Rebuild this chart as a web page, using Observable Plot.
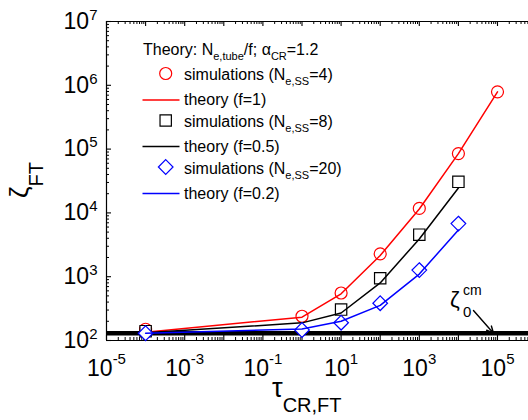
<!DOCTYPE html>
<html>
<head>
<meta charset="utf-8">
<script src="https://cdn.jsdelivr.net/npm/d3@7"></script>
<script src="https://cdn.jsdelivr.net/npm/@observablehq/plot@0.6"></script>
<style>
  html, body { margin: 0; padding: 0; background: #fff; overflow: hidden; }
  #chart { position: relative; width: 528px; height: 420px; }
</style>
</head>
<body>
<div id="chart"></div>
<script>
// Friction coefficient ζ_FT versus constraint-release time τ_CR,FT
// Simulations (symbols) and theory curves (lines), α_CR = 1.2

const tauNe4 = [1e-4, 1, 10, 100, 1000, 1e4, 1e5];
const simNe4 = [150, 240, 555, 2280, 11750, 85000, 790000];

const tauNe8 = [1e-4, 10, 100, 1000, 1e4];
const simNe8 = [140, 305, 944, 4560, 30700];

const tauNe20 = [1e-4, 1, 10, 100, 1000, 1e4];
const simNe20 = [130, 146, 190, 384, 1270, 6800];

const tauF1 = [1e-4, 1, 10, 100, 1000, 1e4, 1e5];
const theoryF1 = [135, 232, 540, 2150, 11500, 85000, 790000];

const tauF05 = [1e-4, 1, 10, 100, 1000, 1e4];
const theoryF05 = [132, 189, 270, 800, 3900, 24600];

const tauF02 = [1e-4, 1, 10, 100, 1000, 1e4];
const theoryF02 = [130, 152, 200, 355, 1100, 5400];

// Rouse (centre-of-mass) level ζ0^cm
const zeta0cm = 130;
// arrow pointing at the ζ0^cm line: [τ, ζ] start and end
const arrowFrom = [2.43e4, 295];
const arrowTo = [7.9e4, 130];

// axis tick values (exponents of ten)
const xLabelExps = [-5, -3, -1, 1, 3, 5];
const yLabelExps = [2, 3, 4, 5, 6, 7];
const xMajorExps = [-5, -4, -3, -2, -1, 0, 1, 2, 3, 4, 5, 6];
const yMajorExps = [2, 3, 4, 5, 6, 7];

const RED = "#ff0000", BLACK = "#000000", BLUE = "#0000ff";

const toRows = (xs, ys) => xs.map((x, i) => ({x, y: ys[i]}));
const pow10 = e => Math.pow(10, e);
const minorOf = exps => exps.slice(0, -1).flatMap(e => d3.range(2, 10).map(m => m * pow10(e)));

const W = 528, H = 420;
const mLeft = 106, mTop = 21, mBottom = 80, mRight = 0;
const innerW = W - mLeft - mRight, innerH = H - mTop - mBottom;

const xMajor = xMajorExps.map(pow10);
const yMajor = yMajorExps.map(pow10);
const xMinor = minorOf(xMajorExps);
const yMinor = minorOf(yMajorExps);

const fmt = d => "10^" + Math.round(Math.log10(d));

const plot = Plot.plot({
  width: W,
  height: H,
  marginLeft: mLeft,
  marginTop: mTop,
  marginBottom: mBottom,
  marginRight: mRight,
  style: {fontFamily: "'Liberation Sans', Arial, sans-serif", fontSize: "23px", color: "#000", background: "#fff"},
  x: {type: "log", domain: [1e-5, 1e6], range: [mLeft, mLeft + 11 * 39.1]},
  y: {type: "log", domain: [100, 1e7], range: [H - mBottom, mTop]},
  marks: [
    // frame lines (the right edge lies beyond the view)
    Plot.ruleY([1e7], {stroke: BLACK, strokeWidth: 1.2}),
    Plot.ruleY([100], {stroke: BLACK, strokeWidth: 1.2}),
    Plot.ruleX([1e-5], {stroke: BLACK, strokeWidth: 1.2}),
    // inward ticks, bottom and top
    Plot.tickX(xMajor, {x: d => d, insetTop: innerH - 5, stroke: BLACK, strokeWidth: 1.1}),
    Plot.tickX(xMinor, {x: d => d, insetTop: innerH - 3, stroke: BLACK, strokeWidth: 1}),
    Plot.tickX(xMajor, {x: d => d, insetBottom: innerH - 5, stroke: BLACK, strokeWidth: 1.1}),
    Plot.tickX(xMinor, {x: d => d, insetBottom: innerH - 3, stroke: BLACK, strokeWidth: 1}),
    // inward ticks, left
    Plot.tickY(yMajor, {y: d => d, insetRight: innerW - 5, stroke: BLACK, strokeWidth: 1.1}),
    Plot.tickY(yMinor, {y: d => d, insetRight: innerW - 3, stroke: BLACK, strokeWidth: 1}),
    // tick labels
    Plot.axisX(xLabelExps.map(pow10), {tickSize: 0, tickPadding: 19, tickFormat: fmt, label: null}),
    Plot.axisY(yLabelExps.map(pow10), {tickSize: 0, tickPadding: 9, tickFormat: fmt, label: null}),
    // ζ0^cm level
    Plot.ruleY([zeta0cm], {stroke: BLACK, strokeWidth: 4.3}),
    // N_e,SS = 4 / f = 1
    Plot.dot(toRows(tauNe4, simNe4), {x: "x", y: "y", r: 6, stroke: RED, fill: "white", strokeWidth: 1.2}),
    Plot.line(toRows(tauF1, theoryF1), {x: "x", y: "y", stroke: RED, strokeWidth: 1.5}),
    // N_e,SS = 8 / f = 0.5
    Plot.dot(toRows(tauNe8, simNe8), {x: "x", y: "y", r: 6.4, symbol: "square", stroke: BLACK, fill: "white", strokeWidth: 1.2}),
    Plot.line(toRows(tauF05, theoryF05), {x: "x", y: "y", stroke: BLACK, strokeWidth: 1.5}),
    // N_e,SS = 20 / f = 0.2
    Plot.dot(toRows(tauNe20, simNe20), {x: "x", y: "y", r: 6.6, symbol: "diamond2", stroke: BLUE, fill: "white", strokeWidth: 1.2}),
    Plot.line(toRows(tauF02, theoryF02), {x: "x", y: "y", stroke: BLUE, strokeWidth: 1.5}),
    // annotation arrow
    Plot.arrow([{x1: arrowFrom[0], y1: arrowFrom[1], x2: arrowTo[0], y2: arrowTo[1]}],
      {x1: "x1", y1: "y1", x2: "x2", y2: "y2", stroke: BLACK, strokeWidth: 1.4, headLength: 8, headAngle: 50})
  ]
});

document.getElementById("chart").append(plot);

const svg = d3.select(plot);
const sx = plot.scale("x"), sy = plot.scale("y");

// tick labels as 10 with a raised exponent
svg.selectAll('g[aria-label="x-axis tick label"] text').each(function () {
  const t = d3.select(this), [b, e] = t.text().split("^");
  t.text(null);
  t.append("tspan").text(b);
  t.append("tspan").attr("dy", -12).attr("font-size", "15px").text(e);
});
svg.selectAll('g[aria-label="y-axis tick label"] text').each(function () {
  const t = d3.select(this), [b, e] = t.text().split("^");
  t.text(null);
  t.append("tspan").text(b);
  t.append("tspan").attr("dy", -9).attr("font-size", "15px").text(e);
});

const font = "'Liberation Sans', Arial, sans-serif";
const extras = svg.append("g").attr("font-family", font).attr("fill", BLACK).attr("text-anchor", "start");

// axis titles
const yTitle = extras.append("text")
  .attr("transform", "translate(28,198) rotate(-90)");
yTitle.append("tspan").attr("font-size", "26px").text("ζ");
yTitle.append("tspan").attr("font-size", "20px").attr("dy", 15).text("FT");

const xTitle = extras.append("text")
  .attr("x", 272).attr("y", 397);
xTitle.append("tspan").attr("font-size", "27px").text("τ");
xTitle.append("tspan").attr("font-size", "20px").attr("dy", 15).text("CR,FT");

// ζ0^cm label next to the arrow tail
const ax = sx.apply(arrowFrom[0]), ay = sy.apply(arrowFrom[1]);
extras.append("text").attr("x", ax - 23).attr("y", ay - 3)
  .attr("font-size", "22px").text("ζ");
extras.append("text").attr("x", ax - 10).attr("y", ay - 15)
  .attr("font-size", "14px").text("cm");
extras.append("text").attr("x", ax - 10).attr("y", ay + 7)
  .attr("font-size", "15px").text("0");

// legend
const legend = extras.append("g").attr("font-size", "16px");
const addRich = (sel, x, y, parts) => {
  const t = sel.append("text").attr("x", x).attr("y", y);
  let shifted = 0;
  parts.forEach(([s, sub]) => {
    const dy = sub ? 5 - shifted : -shifted;
    shifted = sub ? 5 : 0;
    const ts = t.append("tspan").attr("dy", dy).text(s);
    if (sub) ts.attr("font-size", "11px");
  });
};
addRich(legend, 143, 55, [["Theory: N"], ["e,tube", 1], ["/f; α"], ["CR", 1], ["=1.2"]]);

const legendRows = [
  {kind: "circle", color: RED, yc: 73.5, parts: [["simulations (N"], ["e,SS", 1], ["=4)"]]},
  {kind: "line", color: RED, yc: 100, parts: [["theory (f=1)"]]},
  {kind: "square", color: BLACK, yc: 120.5, parts: [["simulations (N"], ["e,SS", 1], ["=8)"]]},
  {kind: "line", color: BLACK, yc: 146.5, parts: [["theory (f=0.5)"]]},
  {kind: "diamond", color: BLUE, yc: 167, parts: [["simulations (N"], ["e,SS", 1], ["=20)"]]},
  {kind: "line", color: BLUE, yc: 193.5, parts: [["theory (f=0.2)"]]}
];
const symbolOf = {
  circle: d3.symbol(d3.symbolCircle, Math.PI * 6 * 6),
  square: d3.symbol(d3.symbolSquare, Math.PI * 6.4 * 6.4),
  diamond: d3.symbol(d3.symbolDiamond2, Math.PI * 6.6 * 6.6)
};
legendRows.forEach(row => {
  if (row.kind === "line") {
    legend.append("line").attr("x1", 142.5).attr("x2", 179.5).attr("y1", row.yc).attr("y2", row.yc)
      .attr("stroke", row.color).attr("stroke-width", 1.5);
    addRich(legend, 184, row.yc + 5, row.parts);
  } else {
    legend.append("path").attr("d", symbolOf[row.kind]()).attr("transform", `translate(165.7,${row.yc})`)
      .attr("fill", "white").attr("stroke", row.color).attr("stroke-width", 1.2);
    addRich(legend, 184, row.yc + 6.5, row.parts);
  }
});
</script>
</body>
</html>
